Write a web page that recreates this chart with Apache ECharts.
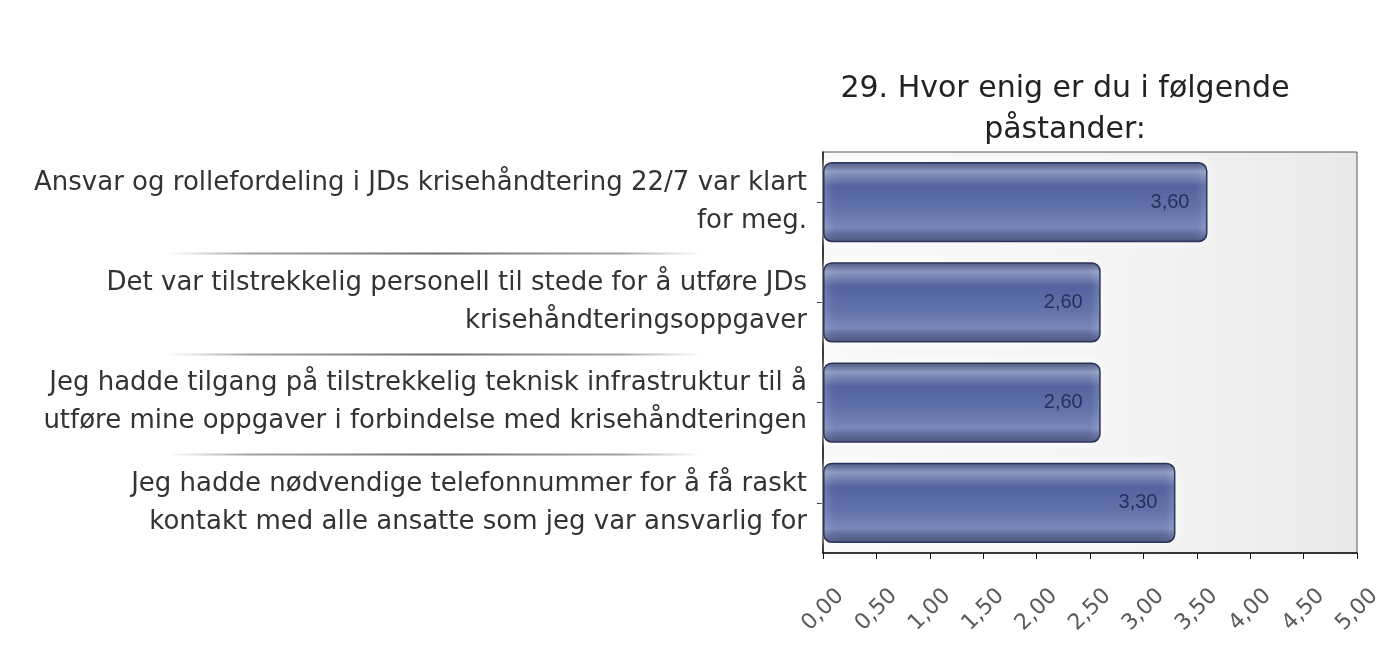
<!DOCTYPE html>
<html>
<head>
<meta charset="utf-8">
<script src="https://cdn.jsdelivr.net/npm/echarts@6/dist/echarts.min.js"></script>
<style>
  html, body { margin: 0; padding: 0; background: #fff; }
  #main { width: 1377px; height: 667px; }
</style>
</head>
<body>
<div id="main"></div>
<script>
  // data, top to bottom
  var categories = [
    'Ansvar og rollefordeling i JDs krisehåndtering 22/7 var klart\nfor meg.',
    'Det var tilstrekkelig personell til stede for å utføre JDs\nkrisehåndteringsoppgaver',
    'Jeg hadde tilgang på tilstrekkelig teknisk infrastruktur til å\nutføre mine oppgaver i forbindelse med krisehåndteringen',
    'Jeg hadde nødvendige telefonnummer for å få raskt\nkontakt med alle ansatte som jeg var ansvarlig for'
  ]
  var values = [3.60, 2.60, 2.60, 3.30]
  var titleText = '29. Hvor enig er du i følgende\npåstander:'

  function comma(v) {
    return Number(v).toFixed(2).replace('.', ',')
  }

  var chartDom = document.getElementById('main')
  var myChart = echarts.init(chartDom)

  var barColor = new echarts.graphic.LinearGradient(0, 0, 0, 1, [
    { offset: 0, color: '#333d6b' },
    { offset: 0.12, color: '#8a98c0' },
    { offset: 0.3, color: '#53639d' },
    { offset: 0.6, color: '#6272ab' },
    { offset: 0.82, color: '#7888bb' },
    { offset: 1, color: '#303a67' }
  ])

  var option = {
    animation: false,
    title: {
      text: titleText,
      left: 1060,
      textAlign: 'center',
      top: 64,
      textStyle: {
        fontFamily: 'DejaVu Sans',
        fontSize: 30,
        fontWeight: 'normal',
        color: '#222',
        lineHeight: 41
      }
    },
    grid: {
      left: 823,
      right: 20,
      top: 152,
      bottom: 114,
      outerBoundsMode: 'none',
      containLabel: false,
      show: true,
      borderColor: '#555',
      borderWidth: 1,
      backgroundColor: new echarts.graphic.LinearGradient(0, 0, 1, 0, [
        { offset: 0, color: '#f8f9f8' },
        { offset: 0.55, color: '#f3f4f3' },
        { offset: 1, color: '#e8e9e9' }
      ])
    },
    xAxis: {
      type: 'value',
      min: 0,
      max: 5,
      interval: 0.5,
      axisLine: { show: true, lineStyle: { color: '#111', width: 1.5 } },
      axisTick: { show: true, length: 6, lineStyle: { color: '#111' } },
      splitLine: { show: false },
      axisLabel: {
        rotate: 45,
        align: 'center',
        verticalAlign: 'middle',
        margin: 57,
        fontFamily: 'DejaVu Sans',
        fontSize: 22,
        color: '#5a5a5a',
        formatter: comma
      }
    },
    yAxis: {
      type: 'category',
      inverse: true,
      data: categories,
      axisLine: { show: true, lineStyle: { color: '#111', width: 1.5 } },
      axisTick: { show: true, length: 6, alignWithLabel: true, lineStyle: { color: '#111' } },
      axisLabel: {
        margin: 16,
        align: 'right',
        fontFamily: 'DejaVu Sans',
        fontSize: 26,
        lineHeight: 38,
        color: '#333'
      }
    },
    series: [
      {
        type: 'bar',
        data: values,
        barCategoryGap: '20%',
        itemStyle: {
          color: barColor,
          borderColor: '#2b3459',
          borderWidth: 1.5,
          borderRadius: 8,
          shadowBlur: 10,
          shadowColor: 'rgba(255,255,255,0.95)'
        },
        label: {
          show: true,
          position: 'insideRight',
          distance: 18,
          fontFamily: 'Liberation Sans',
          fontSize: 20,
          color: '#27305a',
          formatter: function (p) { return comma(p.value) }
        }
      }
    ]
  }

  myChart.setOption(option)

  // thin separator lines between the category labels
  var seps = []
  for (var i = 1; i < categories.length; i++) {
    var yA = myChart.convertToPixel({ yAxisIndex: 0 }, categories[i - 1])
    var yB = myChart.convertToPixel({ yAxisIndex: 0 }, categories[i])
    var y = Math.round((yA + yB) / 2) + 1.5
    seps.push({
      type: 'line',
      shape: { x1: 170, y1: y, x2: 700, y2: y },
      style: {
        lineWidth: 2,
        stroke: new echarts.graphic.LinearGradient(0, 0, 1, 0, [
          { offset: 0, color: 'rgba(150,150,150,0)' },
          { offset: 0.15, color: 'rgba(140,140,140,0.8)' },
          { offset: 0.5, color: 'rgba(110,110,110,1)' },
          { offset: 0.85, color: 'rgba(140,140,140,0.8)' },
          { offset: 1, color: 'rgba(150,150,150,0)' }
        ])
      }
    })
  }
  myChart.setOption({ graphic: seps })
</script>
</body>
</html>
